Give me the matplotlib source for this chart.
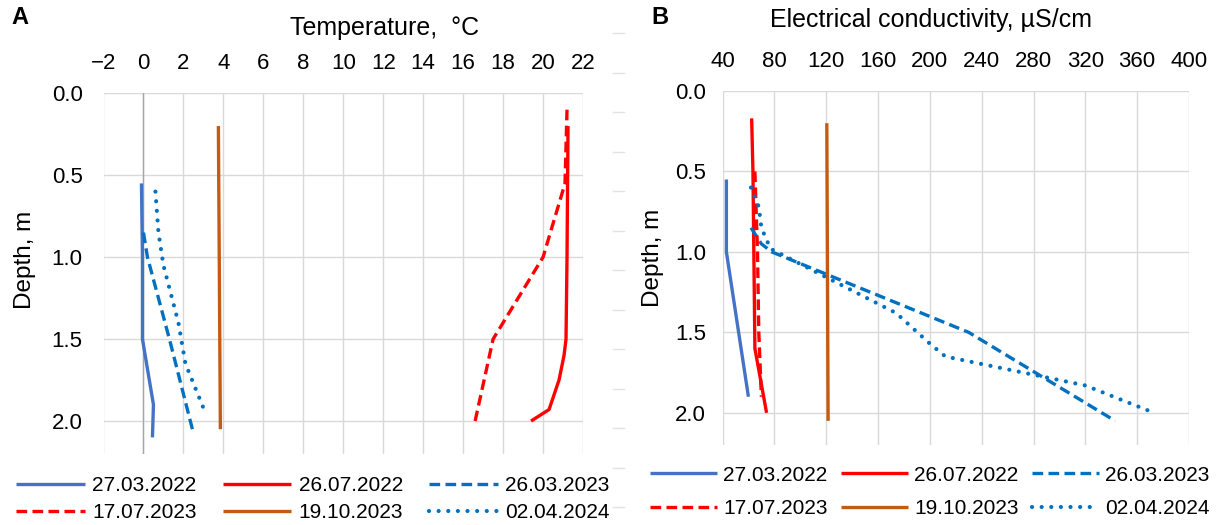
import matplotlib.pyplot as plt
from matplotlib.lines import Line2D
from matplotlib.ticker import FormatStrFormatter

plt.rcParams['font.family'] = ['Liberation Sans', 'DejaVu Sans']

# sampling dates
dates = ['27.03.2022', '26.07.2022', '26.03.2023',
         '17.07.2023', '19.10.2023', '02.04.2024']

# temperature profiles (deg C) and their depths (m)
temp_270322 = [-0.1, -0.05, -0.05, 0.5, 0.45]
temp_d_270322 = [0.55, 1.0, 1.5, 1.9, 2.1]
temp_260722 = [21.25, 21.2, 21.15, 21.05, 20.8, 20.3, 19.4]
temp_d_260722 = [0.2, 1.0, 1.5, 1.6, 1.75, 1.93, 2.0]
temp_260323 = [0.0, 0.2, 1.3, 2.45]
temp_d_260323 = [0.85, 1.0, 1.5, 2.05]
temp_170723 = [21.2, 21.1, 20.0, 17.5, 16.6]
temp_d_170723 = [0.1, 0.55, 1.0, 1.5, 2.0]
temp_191023 = [3.75, 3.85]
temp_d_191023 = [0.2, 2.05]
temp_020424 = [0.6, 0.75, 1.0, 1.75, 2.1, 3.1]
temp_d_020424 = [0.6, 0.85, 1.05, 1.4, 1.65, 1.95]

# electrical conductivity profiles (uS/cm) and their depths (m)
ec_270322 = [43, 43, 60]
ec_d_270322 = [0.55, 1.0, 1.9]
ec_260722 = [62.5, 63.5, 65, 74]
ec_d_260722 = [0.17, 0.5, 1.6, 2.0]
ec_260323 = [62, 70, 78, 230, 343]
ec_d_260323 = [0.85, 0.95, 1.0, 1.5, 2.05]
ec_170723 = [65, 67, 68, 70]
ec_d_170723 = [0.5, 1.0, 1.5, 1.9]
ec_191023 = [120.5, 121.5]
ec_d_191023 = [0.2, 2.05]
ec_020424 = [62, 68, 70, 77, 174, 200, 212, 290, 320, 373]
ec_d_020424 = [0.6, 0.72, 0.85, 0.98, 1.38, 1.57, 1.65, 1.78, 1.83, 2.0]

temp_series = [(temp_270322, temp_d_270322), (temp_260722, temp_d_260722),
               (temp_260323, temp_d_260323), (temp_170723, temp_d_170723),
               (temp_191023, temp_d_191023), (temp_020424, temp_d_020424)]
ec_series = [(ec_270322, ec_d_270322), (ec_260722, ec_d_260722),
             (ec_260323, ec_d_260323), (ec_170723, ec_d_170723),
             (ec_191023, ec_d_191023), (ec_020424, ec_d_020424)]

# line styles per date
LW = 2.4
styles = [
    dict(color='#4472C4', lw=LW, solid_capstyle='butt'),
    dict(color='#FF0000', lw=LW, solid_capstyle='butt'),
    dict(color='#0070C0', lw=LW, dashes=(3.2, 1.6), dash_capstyle='butt'),
    dict(color='#FF0000', lw=LW, dashes=(3.2, 1.6), dash_capstyle='butt'),
    dict(color='#C55A11', lw=LW, solid_capstyle='butt'),
    dict(color='#0070C0', lw=3.0, dashes=(0.01, 2.3), dash_capstyle='round'),
]

W, H = 1220, 525
fig = plt.figure(figsize=(W / 100, H / 100), dpi=100)
axA = fig.add_axes([103.5 / W, 1 - 453.8 / H, (583 - 103.5) / W, (453.8 - 93.3) / H])
axB = fig.add_axes([722.5 / W, 1 - 445 / H, (1189 - 722.5) / W, (445 - 91) / H])


def setup(ax, xlim, xticks, ypad):
    ax.set_xlim(*xlim)
    ax.set_xticks(xticks)
    ax.set_ylim(2.2, 0)
    ax.set_yticks([0, 0.5, 1.0, 1.5, 2.0])
    ax.yaxis.set_major_formatter(FormatStrFormatter('%.1f'))
    ax.xaxis.tick_top()
    ax.tick_params(length=0, labelsize=16, colors='black')
    ax.tick_params(axis='x', pad=14)
    ax.tick_params(axis='y', pad=ypad)
    ax.grid(True, color='#D9D9D9', lw=1)
    ax.set_axisbelow(True)
    for s in ax.spines.values():
        s.set_visible(False)


setup(axA, (-2, 22), range(-2, 23, 2), 15)
setup(axB, (40, 400), range(40, 401, 40), 12)
axA.axvline(0, color='#A6A6A6', lw=1, zorder=1)

handlesA, handlesB = [], []
for (t, td), (e, ed), st in zip(temp_series, ec_series, styles):
    handlesA.append(axA.plot(t, td, **st)[0])
    handlesB.append(axB.plot(e, ed, **st)[0])

# legend order: fill row by row with 3 columns
order = [0, 3, 1, 4, 2, 5]
legA = axA.legend([handlesA[i] for i in order], [dates[i] for i in order],
                  ncol=3, frameon=False, fontsize=15, handlelength=3.3,
                  handletextpad=0.35, columnspacing=1.25, labelspacing=0.4,
                  loc='center', bbox_to_anchor=(313 / W, 1 - 499 / H),
                  bbox_transform=fig.transFigure)
legB = axB.legend([handlesB[i] for i in order], [dates[i] for i in order],
                  ncol=3, frameon=False, fontsize=15, handlelength=3.2,
                  handletextpad=0.3, columnspacing=0.65, labelspacing=0.7,
                  loc='center', bbox_to_anchor=(930 / W, 1 - 492 / H),
                  bbox_transform=fig.transFigure)

# axis titles and panel letters
fig.text(385 / W, 1 - 28 / H, 'Temperature,  °C', fontsize=18, ha='center', va='center')
fig.text(931 / W, 1 - 20 / H, 'Electrical conductivity, µS/cm', fontsize=18,
         ha='center', va='center')
fig.text(25 / W, 1 - 260 / H, 'Depth, m', fontsize=17.5, rotation=90, ha='center', va='center')
fig.text(653 / W, 1 - 258 / H, 'Depth, m', fontsize=17.5, rotation=90, ha='center', va='center')
fig.text(11 / W, 1 - 17 / H, 'A', fontsize=17, fontweight='bold', va='center')
fig.text(651 / W, 1 - 17 / H, 'B', fontsize=17, fontweight='bold', va='center')

# faint gridline stubs along the panel gap
for k in range(13):
    y = 1 - (33 + 39.5 * k) / H
    fig.add_artist(Line2D([613 / W, 624 / W], [y, y], color='#E3E3E3', lw=1))

fig.savefig('out.png', dpi=100)
